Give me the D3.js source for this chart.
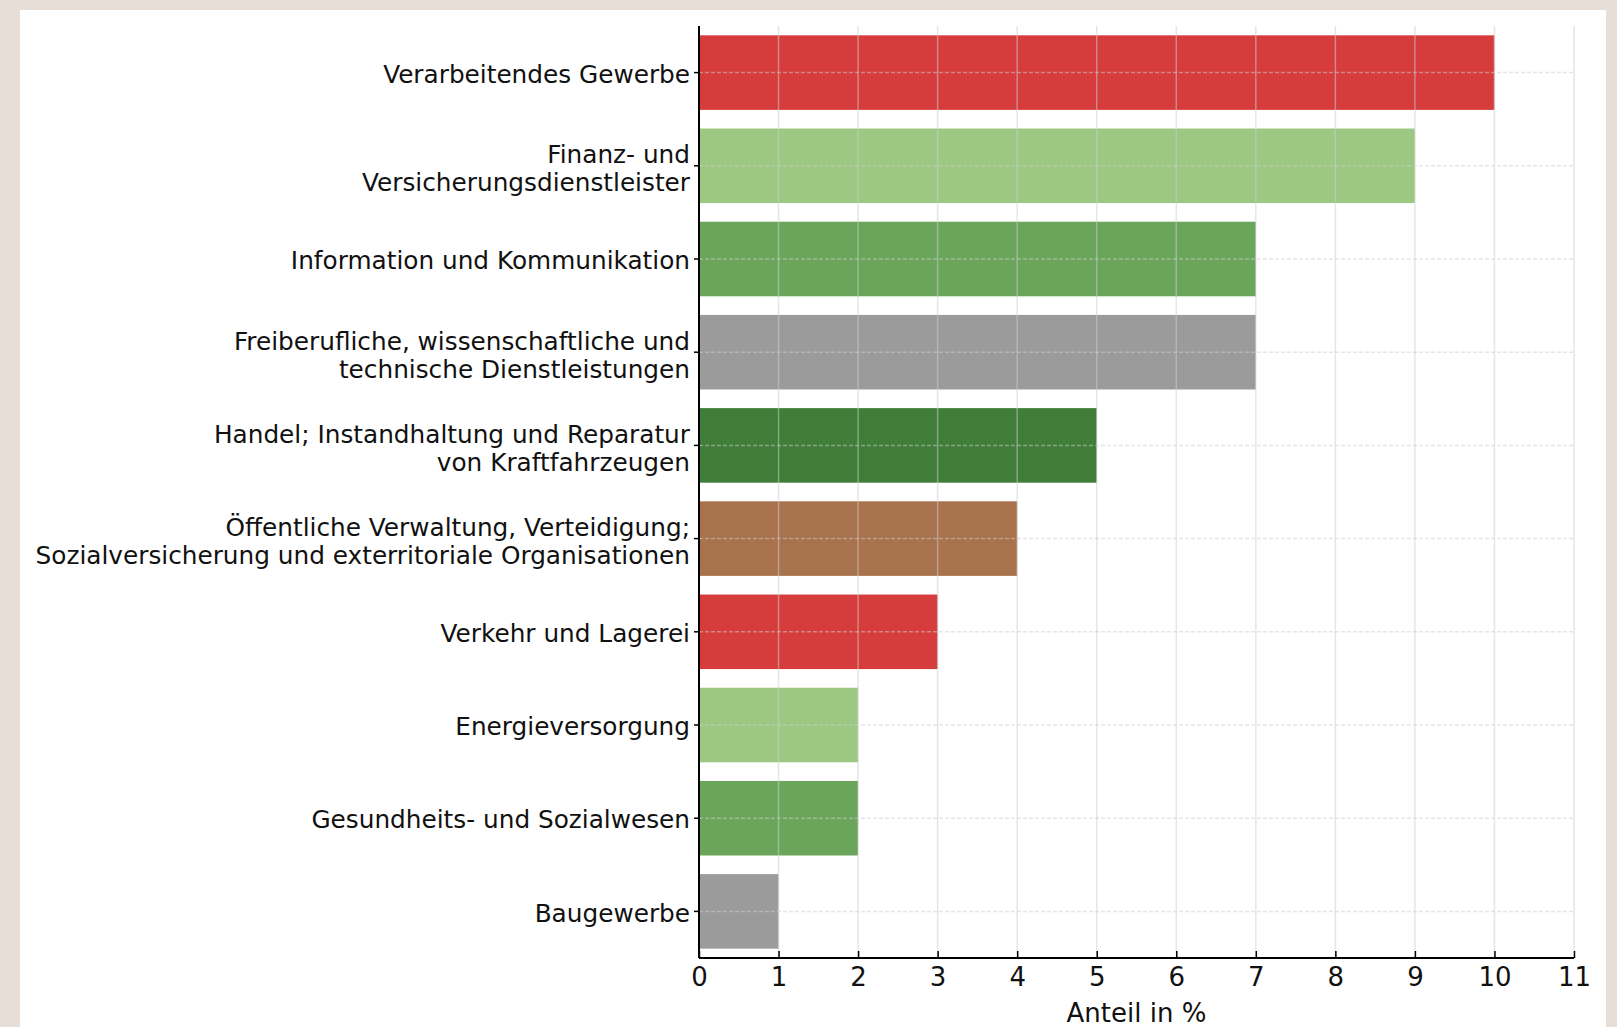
<!DOCTYPE html>
<html><head><meta charset="utf-8">
<script src="https://cdn.jsdelivr.net/npm/d3@7"></script>
<style>
html,body{margin:0;padding:0;background:#e7ded8;}
svg{display:block;}
</style></head>
<body>
<svg id="chart" width="1617" height="1027"></svg>
<script>
const categories = [
  ["Verarbeitendes Gewerbe"],
  ["Finanz- und", "Versicherungsdienstleister"],
  ["Information und Kommunikation"],
  ["Freiberufliche, wissenschaftliche und", "technische Dienstleistungen"],
  ["Handel; Instandhaltung und Reparatur", "von Kraftfahrzeugen"],
  ["Öffentliche Verwaltung, Verteidigung;", "Sozialversicherung und exterritoriale Organisationen"],
  ["Verkehr und Lagerei"],
  ["Energieversorgung"],
  ["Gesundheits- und Sozialwesen"],
  ["Baugewerbe"]
];
const values = [10, 9, 7, 7, 5, 4, 3, 2, 2, 1];
const barColors = ["#d63c3c", "#9cc884", "#6aa55b", "#9b9b9b", "#3f7d39", "#a8724d"];
const xTicks = [0, 1, 2, 3, 4, 5, 6, 7, 8, 9, 10, 11];
const xLabel = "Anteil in %";

const svg = d3.select("#chart");
svg.append("rect").attr("x", 20).attr("y", 10).attr("width", 1586).attr("height", 1017).attr("fill", "#ffffff");

const pL = 699, pR = 1574, pT = 26, pB = 958;
const ids = categories.map((c, i) => i);
const x = d3.scaleLinear().domain([0, 11]).range([pL, pR]);
const y = d3.scaleBand().domain(ids).range([pT, pB]).paddingInner(0.2).paddingOuter(0.1);

const font = "DejaVu Sans, Verdana, sans-serif";

// bars
svg.append("g").selectAll("rect").data(values).join("rect")
  .attr("x", x(0))
  .attr("y", (d, i) => y(i))
  .attr("width", d => x(d) - x(0))
  .attr("height", y.bandwidth())
  .attr("fill", (d, i) => barColors[i % barColors.length]);

// grid on top
const grid = svg.append("g");
grid.selectAll("line.v").data(xTicks.slice(1)).join("line")
  .attr("class", "v")
  .attr("x1", d => x(d)).attr("x2", d => x(d))
  .attr("y1", pT).attr("y2", pB)
  .attr("stroke", "#cfcfcf").attr("stroke-width", 1.5).attr("opacity", 0.5);
grid.selectAll("line.h").data(ids).join("line")
  .attr("class", "h")
  .attr("x1", pL).attr("x2", pR)
  .attr("y1", d => y(d) + y.bandwidth() / 2).attr("y2", d => y(d) + y.bandwidth() / 2)
  .attr("stroke", "#cfcfcf").attr("stroke-width", 1.5).attr("stroke-dasharray", "4,2").attr("opacity", 0.5);

// x axis
const xAxis = svg.append("g").attr("transform", `translate(0,${pB})`)
  .call(d3.axisBottom(x).tickValues(xTicks).tickFormat(d3.format("d")).tickSize(-7).tickPadding(14));
xAxis.select(".domain").attr("stroke", "#000").attr("stroke-width", 2).attr("d", `M${pL},0H${pR}`);
xAxis.selectAll(".tick line").attr("stroke", "#000").attr("stroke-width", 1.5);
xAxis.selectAll(".tick text").attr("font-family", font).attr("font-size", 26).attr("fill", "#111").attr("y", 10).attr("dy", "0.71em");

// y axis
const yAxis = svg.append("g").attr("transform", `translate(${pL},0)`)
  .call(d3.axisLeft(y).tickSize(5).tickPadding(9).tickFormat(""));
yAxis.select(".domain").attr("stroke", "#000").attr("stroke-width", 2).attr("d", `M0,${pT}V${pB}`);
yAxis.selectAll(".tick line").attr("stroke", "#000").attr("stroke-width", 1.5);
yAxis.selectAll(".tick text").remove();
yAxis.selectAll(".tick").append("text")
  .attr("x", -9)
  .attr("text-anchor", "end")
  .attr("font-family", font)
  .attr("font-size", 24.75)
  .attr("fill", "#111")
  .each(function(d) {
    const lines = categories[d];
    const lh = 28;
    const off = lines.length > 1 ? 3 : 1.5;
    const t = d3.select(this);
    lines.forEach((ln, k) => {
      t.append("tspan").attr("x", -9)
        .attr("y", (k - (lines.length - 1) / 2) * lh + off)
        .attr("dy", "0.35em")
        .text(ln);
    });
  });

// x label
svg.append("text")
  .attr("x", (pL + pR) / 2).attr("y", 1022)
  .attr("text-anchor", "middle")
  .attr("font-family", font).attr("font-size", 26).attr("fill", "#111")
  .text(xLabel);
</script>
</body></html>
